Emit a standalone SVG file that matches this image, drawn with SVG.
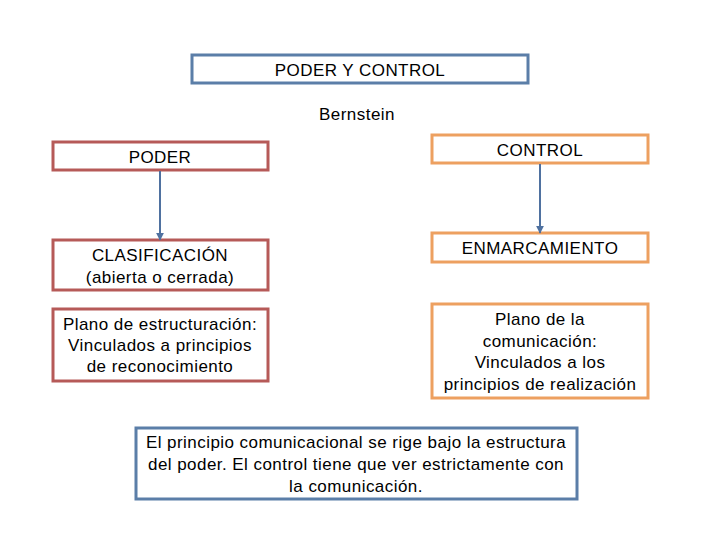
<svg xmlns="http://www.w3.org/2000/svg" width="720" height="540" viewBox="0 0 720 540">
<defs>
<style>
text{font-family:"Liberation Sans",Arial,sans-serif;font-size:17px;letter-spacing:0.45px;fill:#000;text-anchor:middle;dominant-baseline:central}
.blue{fill:#fff;stroke:#5b7ea8;stroke-width:3}
.red{fill:#fff;stroke:#b65a58;stroke-width:3}
.orange{fill:#fff;stroke:#eda060;stroke-width:3}
.conn{stroke:#4f71a0;stroke-width:2;fill:none;marker-end:url(#ah)}
</style>
<marker id="ah" viewBox="0 0 10 10" refX="9" refY="5" markerWidth="4" markerHeight="4" orient="auto" markerUnits="strokeWidth">
<path d="M0,0 L10,5 L0,10 z" fill="#4f71a0"/>
</marker>
</defs>
<rect width="720" height="540" fill="#fff"/>
<g id="title"><rect class="blue" x="192" y="55" width="336" height="28"/><text x="360" y="70">PODER Y CONTROL</text></g>
<g id="bernstein"><text x="357" y="114">Bernstein</text></g>
<g id="poder"><rect class="red" x="53" y="142" width="215" height="28"/><text x="160" y="157">PODER</text></g>
<g id="control"><rect class="orange" x="432" y="135" width="216" height="28"/><text x="540" y="150">CONTROL</text></g>
<g id="clasificacion"><rect class="red" x="53" y="240" width="215" height="50"/><text x="160" y="255">CLASIFICACIÓN</text><text x="160" y="277">(abierta o cerrada)</text></g>
<g id="enmarcamiento"><rect class="orange" x="432" y="233" width="216" height="29"/><text x="540" y="248">ENMARCAMIENTO</text></g>
<g id="estructuracion"><rect class="red" x="53" y="309" width="215" height="72"/><text x="160" y="324">Plano de estructuración:</text><text x="160" y="345">Vinculados a principios</text><text x="160" y="366">de reconocimiento</text></g>
<g id="comunicacion"><rect class="orange" x="432" y="304" width="216" height="94"/><text x="540" y="319">Plano de la</text><text x="540" y="341">comunicación:</text><text x="540" y="362">Vinculados a los</text><text x="540" y="384">principios de realización</text></g>
<g id="principio"><rect class="blue" x="136" y="428" width="441" height="71"/><text x="356" y="442">El principio comunicacional se rige bajo la estructura</text><text x="356" y="464">del poder. El control tiene que ver estrictamente con</text><text x="356" y="486">la comunicación.</text></g>
<g id="connectors">
<path class="conn" d="M160,171 V240"/>
<path class="conn" d="M540,164 V233"/>
</g>
</svg>
